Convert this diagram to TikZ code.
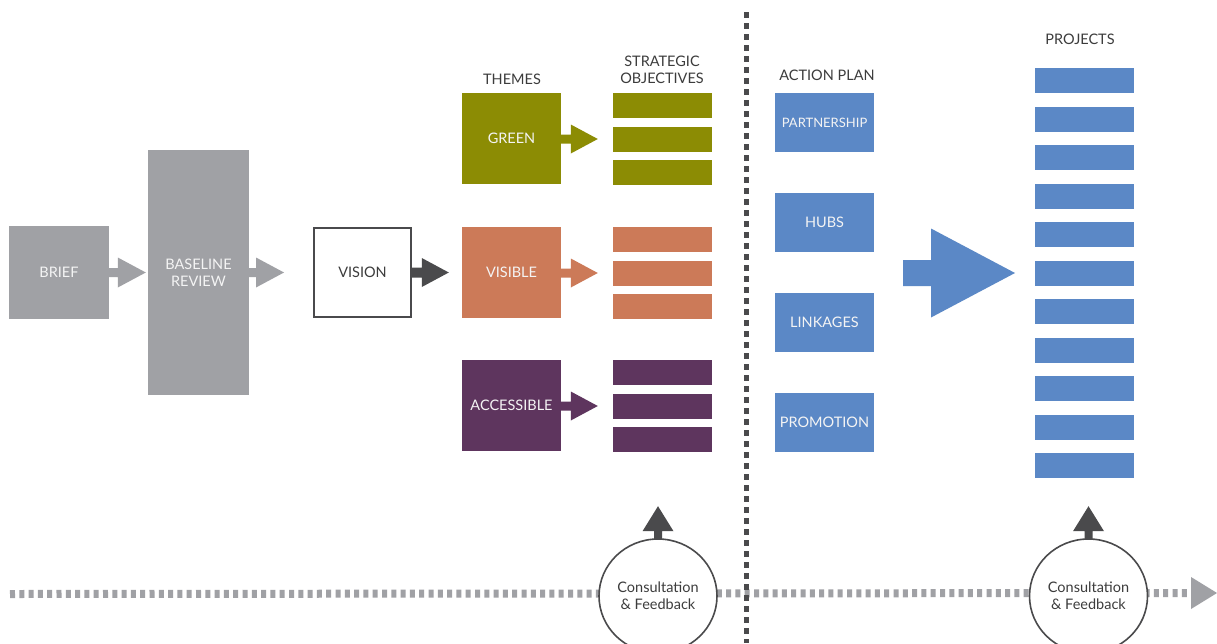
\documentclass[tikz,border=0pt]{standalone}
\usepackage{fontspec}
\setmainfont{Lato}
\usetikzlibrary{calc,shapes.geometric}
\definecolor{greyb}{HTML}{A0A1A5}
\definecolor{darkc}{HTML}{4A4A4C}
\definecolor{olivec}{HTML}{8C8C04}
\definecolor{terrac}{HTML}{CC7A58}
\definecolor{plumc}{HTML}{5E355E}
\definecolor{bluec}{HTML}{5B88C6}
\definecolor{labc}{HTML}{3C3C3C}
\definecolor{whitec}{HTML}{F4F4F4}
\newcommand\harrow[6]{\fill[#1] let \p1=#2, \p2=#3 in
  (\x1,\y2+#4pt) -- (\x2-#6pt,\y2+#4pt) -- (\x2-#6pt,\y2+#5pt) -- (\x2,\y2) --
  (\x2-#6pt,\y2-#5pt) -- (\x2-#6pt,\y2-#4pt) -- (\x1,\y2-#4pt) -- cycle;}
\newcommand\varrow[6]{\fill[#1] let \p1=#2, \p2=#3 in
  (\x2+#4pt,\y1) -- (\x2+#4pt,\y2-#6pt) -- (\x2+#5pt,\y2-#6pt) -- (\x2,\y2) --
  (\x2-#5pt,\y2-#6pt) -- (\x2-#4pt,\y2-#6pt) -- (\x2-#4pt,\y1) -- cycle;}
\tikzset{
  txt/.style={font=\fontsize{14.5}{17}\selectfont},
  blk/.style 2 args={rectangle, inner sep=0pt, minimum width=#1pt, minimum height=#2pt, txt, text=whitec, align=center},
  lab/.style={txt, text=labc, align=center, inner sep=0pt},
  bar/.style={rectangle, inner sep=0pt, minimum width=99pt, minimum height=25pt, fill=#1},
  dotline/.style={draw=greyb, line width=8pt, dash pattern=on 5pt off 4.3pt},
  vline/.style={draw=darkc, line width=5pt, dash pattern=on 5.5pt off 5.5pt},
  cons/.style={ellipse, draw=darkc, line width=1.6pt, fill=white, minimum width=118pt, minimum height=114pt, inner sep=0pt, txt, text=labc, align=center}
}
\begin{document}
\begin{tikzpicture}[x=1pt,y=-1pt]
\useasboundingbox[fill=white] (0,0) rectangle (1217,643);

% bottom dotted timeline
\coordinate (dstart) at (10,594);
\coordinate (hend) at (1191,593);
\coordinate (htip) at (1217,593);
\draw[dotline] (dstart) -- (hend);
\fill[greyb] ($(hend)+(0,-16)$) -- (htip) -- ($(hend)+(0,16)$) -- cycle;

% vertical divider
\coordinate (vtop) at (746,12);
\coordinate (vbot) at (746,643);
\draw[vline] (vtop) -- (vbot);

% left process
\node[blk={100}{93}, fill=greyb] (brief) at (59,272.5) {BRIEF};
\node[blk={101}{245}, fill=greyb] (baseline) at (198.5,272.5) {BASELINE\\REVIEW};
\node[blk={97}{89}, draw=darkc, line width=2pt, fill=white, text=labc] (vision) at (362.5,272.5) {VISION};

\harrow{greyb}{(brief.east)}{($(baseline.west)+(-2,0)$)}{4.5}{15}{28}
\harrow{greyb}{(baseline.east)}{($(vision.west)+(-29,0)$)}{4.5}{15}{28}

% themes
\node[lab] (themes) at (512,79) {THEMES};
\node[lab] (strat) at (662,70) {STRATEGIC\\OBJECTIVES};
\node[blk={99}{91}, fill=olivec] (green) at (511.5,138.5) {GREEN};
\node[blk={99}{91}, fill=terrac] (visible) at (511.5,272.5) {VISIBLE};
\node[blk={99}{91}, fill=plumc] (access) at (511.5,405.5) {ACCESSIBLE};

\harrow{darkc}{(vision.east)}{($(visible.west)+(-13,0)$)}{5}{14.5}{27}

% objectives
\node[bar=olivec] (g1) at (662.5,105.5) {};
\node[bar=olivec] (g2) at (662.5,139) {};
\node[bar=olivec] (g3) at (662.5,172.5) {};
\node[bar=terrac] (v1) at (662.5,239.5) {};
\node[bar=terrac] (v2) at (662.5,273) {};
\node[bar=terrac] (v3) at (662.5,306.5) {};
\node[bar=plumc] (a1) at (662.5,372.5) {};
\node[bar=plumc] (a2) at (662.5,406) {};
\node[bar=plumc] (a3) at (662.5,439.5) {};

\harrow{olivec}{(green.east)}{($(g2.west)+(-15,0)$)}{4.5}{14.5}{27}
\harrow{terrac}{(visible.east)}{($(v2.west)+(-15,0)$)}{4.5}{14.5}{27}
\harrow{plumc}{(access.east)}{($(a2.west)+(-15,0)$)}{4.5}{14.5}{27}

% action plan
\node[lab] (action) at (827,75) {ACTION PLAN};
\node[blk={99}{59}, fill=bluec, font=\fontsize{13}{16}\selectfont] (partner) at (824.5,122.5) {PARTNERSHIP};
\node[blk={99}{59}, fill=bluec] (hubs) at (824.5,222.5) {HUBS};
\node[blk={99}{59}, fill=bluec] (link) at (824.5,322.5) {LINKAGES};
\node[blk={99}{59}, fill=bluec] (promo) at (824.5,422.5) {PROMOTION};

% big arrow
\coordinate (bstart) at (903,273);
\coordinate (btip) at (1015,273);
\harrow{bluec}{(bstart)}{(btip)}{13}{44.5}{84}

% projects
\node[lab] (projects) at (1080,39) {PROJECTS};
\foreach \i in {0,...,10}{
  \node[bar=bluec] (p\i) at (1084.5,80.5+38.5*\i) {};
}

% consultation
\node[cons] (c1) at (658,596) {Consultation\\\& Feedback};
\node[cons] (c2) at (1088.5,596) {Consultation\\\& Feedback};
\varrow{darkc}{($(c1.north)+(0,1)$)}{($(c1.north)+(0,-32)$)}{4}{15.5}{25}
\varrow{darkc}{($(c2.north)+(0,1)$)}{($(c2.north)+(0,-32)$)}{4}{15.5}{25}
\end{tikzpicture}
\end{document}
